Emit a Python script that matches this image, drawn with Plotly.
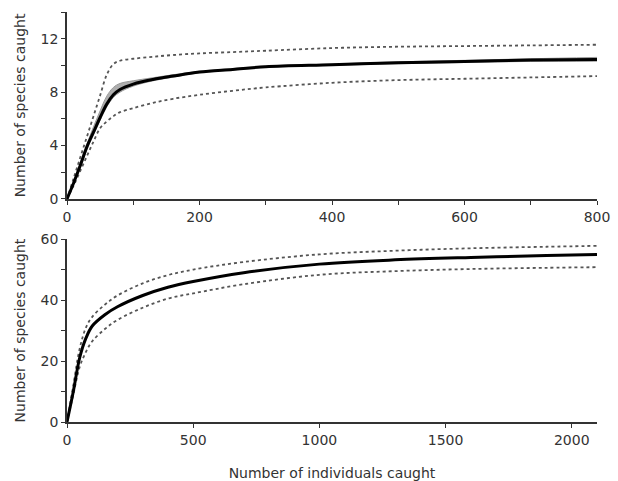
import plotly.graph_objects as go

# Top panel data
x_top = [0, 10, 20, 30, 40, 50, 60, 70, 80, 100, 130, 160, 200, 250, 300, 400, 500, 600, 700, 800]
mean_top = [0, 1.2, 2.5, 3.9, 5.0, 6.1, 7.1, 7.8, 8.2, 8.6, 8.95, 9.2, 9.5, 9.7, 9.9, 10.05, 10.2, 10.3, 10.4, 10.45]
band_hi_top = [0, 1.3, 2.7, 4.1, 5.4, 6.6, 7.7, 8.35, 8.65, 8.85, 9.08, 9.3, 9.56, 9.76, 9.95, 10.1, 10.27, 10.38, 10.5, 10.6]
band_lo_top = [0, 1.1, 2.3, 3.7, 4.8, 5.9, 6.9, 7.6, 8.0, 8.45, 8.85, 9.12, 9.45, 9.65, 9.85, 10.0, 10.13, 10.22, 10.3, 10.32]
upper_top = [0, 1.55, 3.1, 4.65, 6.2, 7.75, 9.3, 10.1, 10.35, 10.5, 10.65, 10.78, 10.9, 11.0, 11.1, 11.3, 11.4, 11.45, 11.5, 11.55]
lower_top = [0, 1.0, 2.1, 3.2, 4.3, 5.3, 5.8, 6.2, 6.5, 6.8, 7.2, 7.5, 7.8, 8.1, 8.35, 8.7, 8.9, 9.0, 9.1, 9.2]

# Bottom panel data
x_bot = [0, 25, 50, 75, 100, 150, 200, 300, 400, 500, 700, 1000, 1300, 1600, 1900, 2100]
mean_bot = [0, 10, 21, 27.5, 31.5, 35.2, 37.8, 41.5, 44.2, 46.1, 49, 51.8, 53.2, 54.0, 54.6, 55.0]
upper_bot = [0, 12, 24, 31, 34.5, 38.5, 41.5, 45.5, 48.2, 50, 52.5, 55, 56.2, 57, 57.5, 57.8]
lower_bot = [0, 9, 18, 23, 26.5, 30.5, 33.5, 37.5, 40.5, 42.2, 45.2, 48.3, 49.5, 50.2, 50.6, 50.8]

FONT = "DejaVu Sans"
TXT = "#333333"

fig = go.Figure()

dot = dict(color="#555555", width=1.8, dash="dot", shape="spline")
solid = dict(color="black", width=3, shape="spline")

# Top
fig.add_trace(go.Scatter(x=x_top, y=band_hi_top, mode="lines", line=dict(color="#999999", width=1, shape="spline"), xaxis="x", yaxis="y", showlegend=False))
fig.add_trace(go.Scatter(x=x_top, y=band_lo_top, mode="lines", line=dict(color="#999999", width=1, shape="spline"), fill="tonexty", fillcolor="rgba(140,140,140,0.7)", xaxis="x", yaxis="y", showlegend=False))
fig.add_trace(go.Scatter(x=x_top, y=upper_top, mode="lines", line=dot, xaxis="x", yaxis="y", showlegend=False))
fig.add_trace(go.Scatter(x=x_top, y=lower_top, mode="lines", line=dot, xaxis="x", yaxis="y", showlegend=False))
fig.add_trace(go.Scatter(x=x_top, y=mean_top, mode="lines", line=solid, xaxis="x", yaxis="y", showlegend=False))

# Bottom
fig.add_trace(go.Scatter(x=x_bot, y=upper_bot, mode="lines", line=dot, xaxis="x2", yaxis="y2", showlegend=False))
fig.add_trace(go.Scatter(x=x_bot, y=lower_bot, mode="lines", line=dot, xaxis="x2", yaxis="y2", showlegend=False))
fig.add_trace(go.Scatter(x=x_bot, y=mean_bot, mode="lines", line=solid, xaxis="x2", yaxis="y2", showlegend=False))

axis_common = dict(showgrid=False, zeroline=False, showline=True, linecolor=TXT, linewidth=1.5,
                   ticks="outside", ticklen=4, tickcolor=TXT, tickwidth=1.2, automargin=False,
                   tickfont=dict(family=FONT, size=14, color=TXT))
title_font = dict(family=FONT, size=14, color=TXT)

fig.update_layout(
    width=618, height=481,
    margin=dict(l=67, r=21, t=12, b=59),
    paper_bgcolor="white", plot_bgcolor="white",
    xaxis=dict(domain=[0, 1], range=[0, 800], anchor="y", tickvals=[0, 100, 200, 300, 400, 500, 600, 700, 800],
               ticktext=["0", "", "200", "", "400", "", "600", "", "800"], **axis_common),
    yaxis=dict(domain=[0.544, 1], range=[0, 14], anchor="x", tickvals=[0, 2, 4, 6, 8, 10, 12, 14],
               ticktext=["0", "", "4", "", "8", "", "12", ""],
               title=dict(text="Number of species caught", font=title_font, standoff=12),
               **axis_common),
    xaxis2=dict(domain=[0, 1], range=[0, 2100], anchor="y2", tickvals=[0, 500, 1000, 1500, 2000],
                title=dict(text="Number of individuals caught", font=title_font, standoff=22),
                **axis_common),
    yaxis2=dict(domain=[0, 0.446], range=[0, 60], anchor="x2", tickvals=[0, 10, 20, 30, 40, 50, 60],
                ticktext=["0", "", "20", "", "40", "", "60"],
                title=dict(text="Number of species caught", font=title_font, standoff=12),
                **axis_common),
)

fig.write_html("out.html", config={"displayModeBar": False},
               post_script="document.body.style.margin='0';")
